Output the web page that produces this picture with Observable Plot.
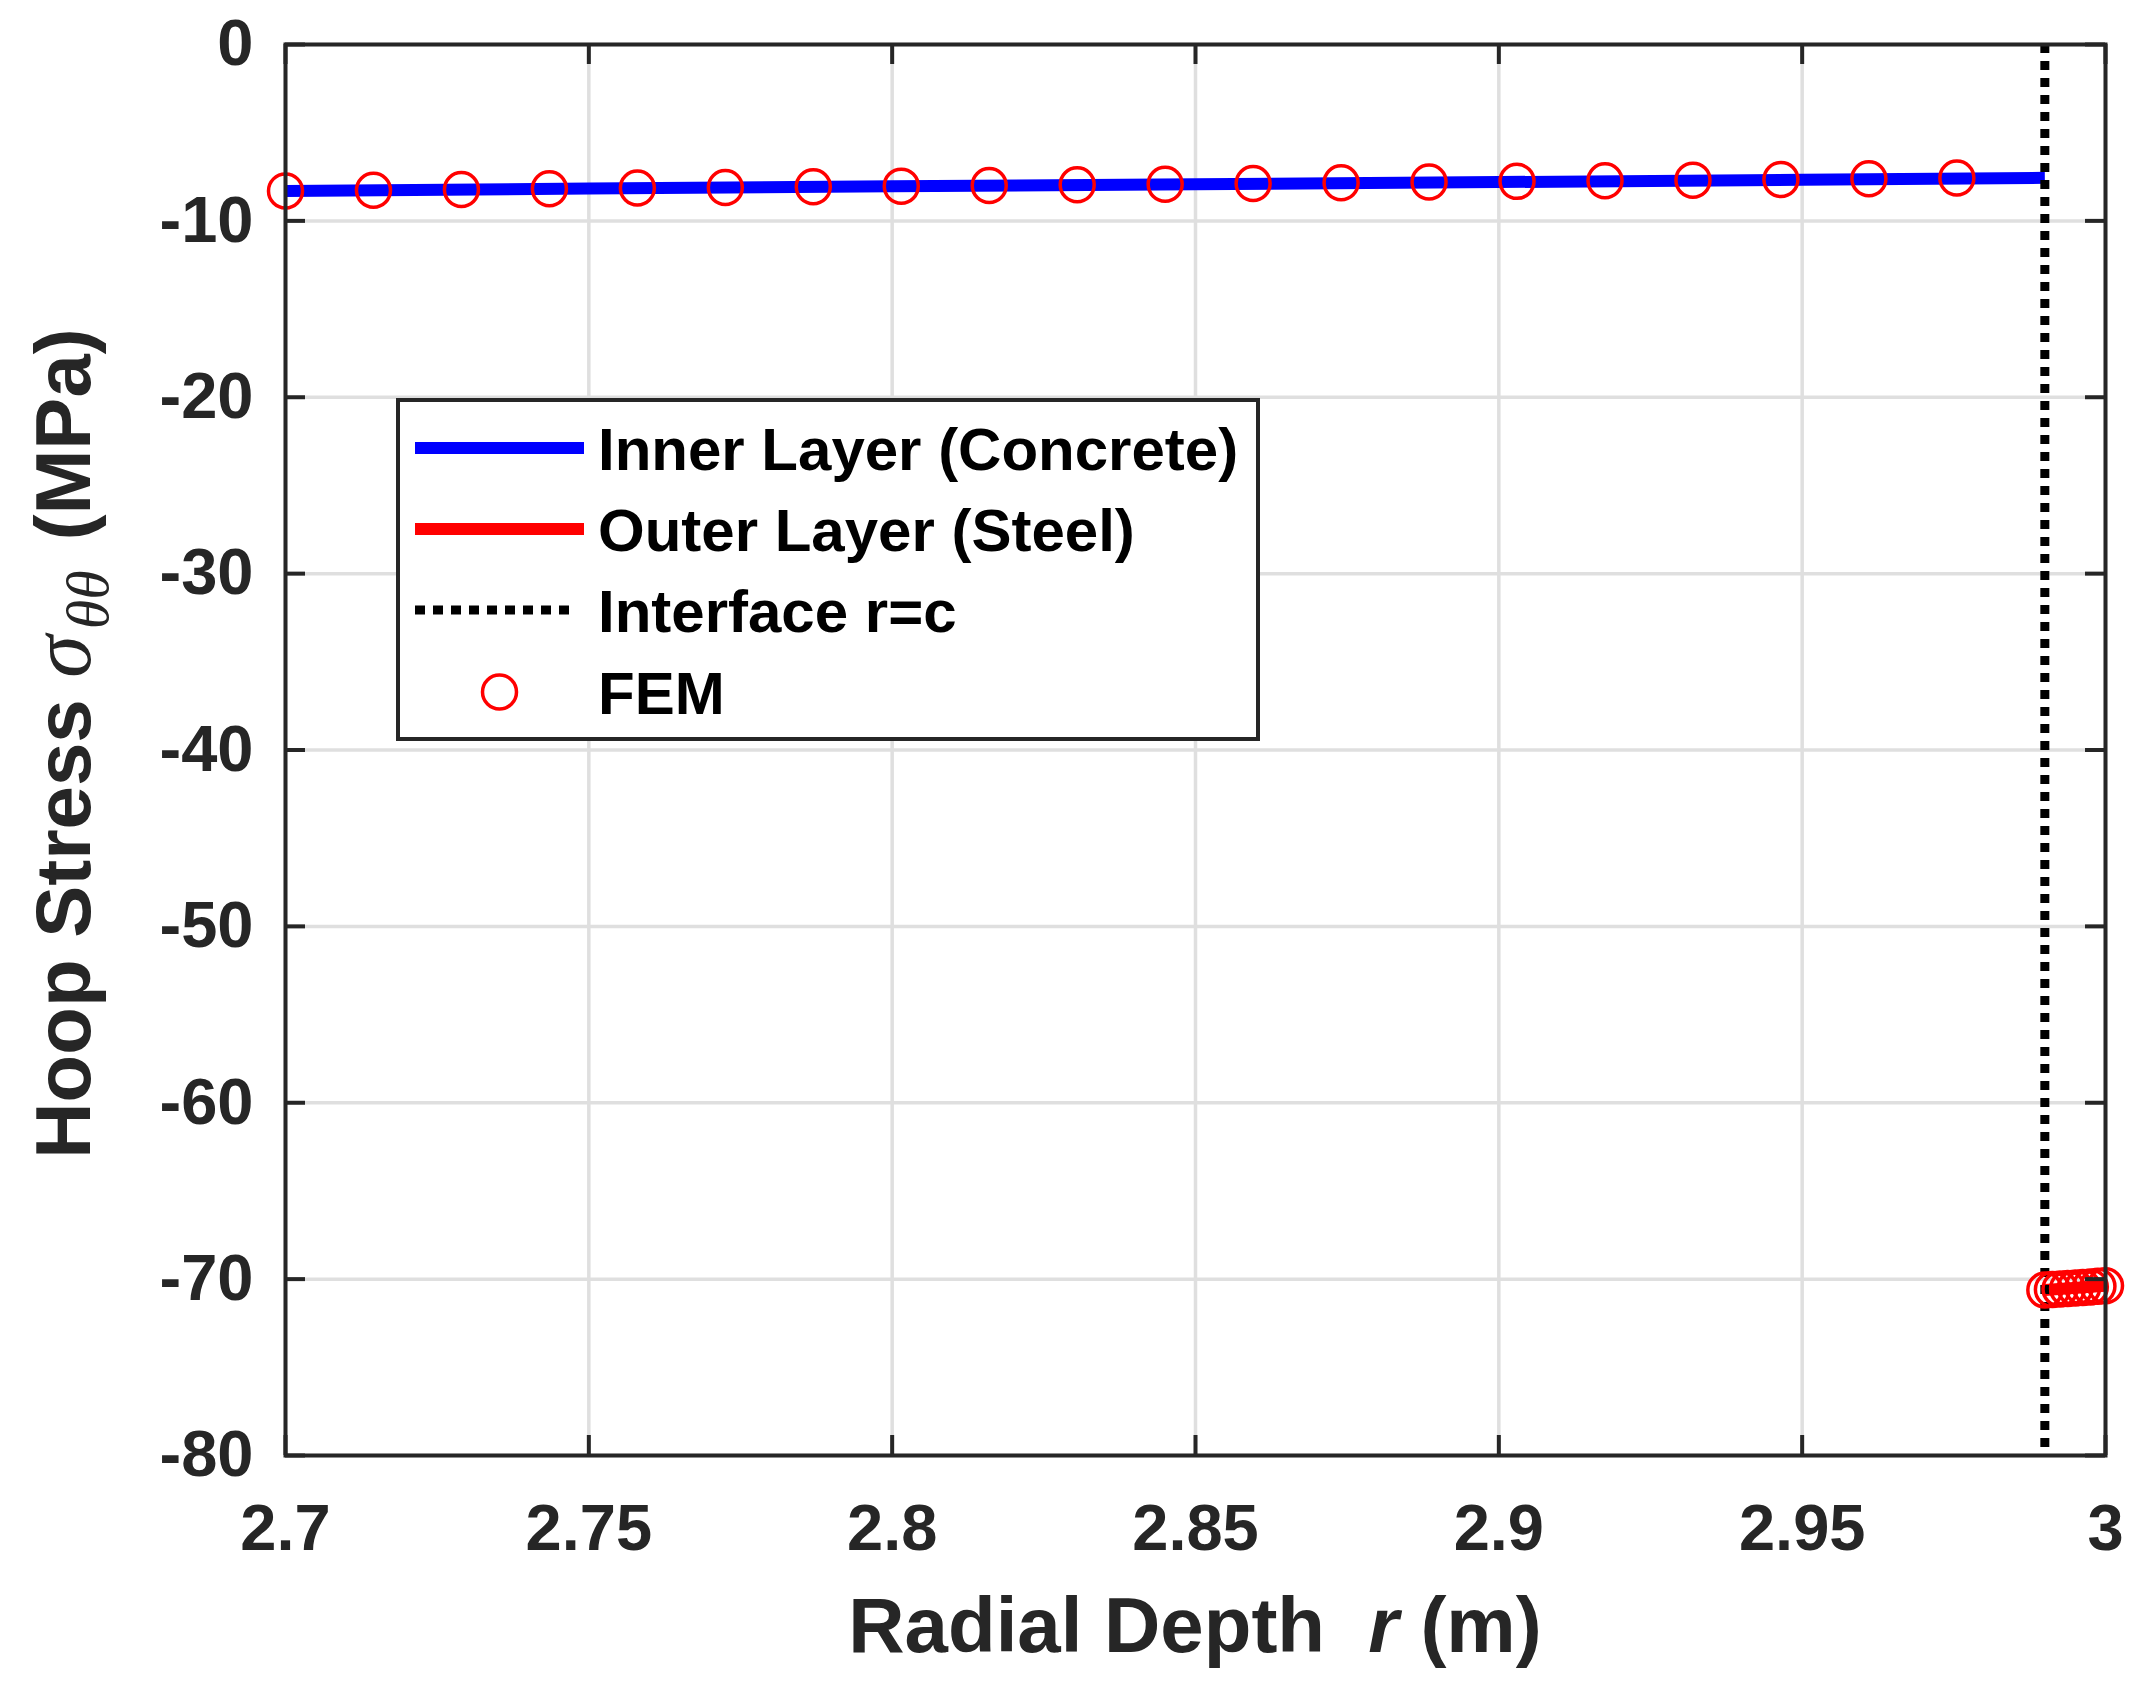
<!DOCTYPE html>
<html>
<head>
<meta charset="utf-8">
<script src="https://cdn.jsdelivr.net/npm/d3@7"></script>
<script src="https://cdn.jsdelivr.net/npm/@observablehq/plot@0.6"></script>
<style>
  html, body { margin: 0; padding: 0; background: white; }
</style>
</head>
<body>
<div id="chart"></div>
<script>
// ---- data ----
const xTicks = [2.7, 2.75, 2.8, 2.85, 2.9, 2.95, 3.0];
const xTickLabels = ["2.7", "2.75", "2.8", "2.85", "2.9", "2.95", "3"];
const yTicks = [0, -10, -20, -30, -40, -50, -60, -70, -80];
const yTickLabels = ["0", "-10", "-20", "-30", "-40", "-50", "-60", "-70", "-80"];

// analytic, inner layer (concrete)
const innerR = [2.7, 2.75, 2.8, 2.85, 2.9, 2.95, 2.99];
const innerS = [-8.30, -8.17, -8.04, -7.92, -7.80, -7.67, -7.56];
// analytic, outer layer (steel)
const steelR = [2.99, 3.0];
const steelS = [-70.62, -70.38];
// interface r = c
const interfaceR = [2.99];
// FEM results
const femR = [2.7, 2.7145, 2.729, 2.7435, 2.758, 2.7725, 2.787, 2.8015, 2.816, 2.8305,
              2.845, 2.8595, 2.874, 2.8885, 2.903, 2.9175, 2.932, 2.9465, 2.961, 2.9755,
              2.99, 2.99125, 2.9925, 2.99375, 2.995, 2.99625, 2.9975, 2.99875, 3.0];
const femS = [-8.30, -8.26, -8.22, -8.18, -8.14, -8.11, -8.07, -8.03, -7.99, -7.95,
              -7.92, -7.88, -7.84, -7.80, -7.76, -7.72, -7.69, -7.65, -7.61, -7.57,
              -70.62, -70.59, -70.56, -70.53, -70.50, -70.47, -70.44, -70.41, -70.38];

const legendLabels = ["Inner Layer (Concrete)", "Outer Layer (Steel)", "Interface r=c", "FEM"];
const xLabelParts = ["Radial Depth  ", "r", " (m)"];
const yLabelParts = ["Hoop Stress ", "σ", "θθ", " (MPa)"];

// ---- build tables ----
const inner = innerR.map((r, i) => ({r, s: innerS[i]}));
const steel = steelR.map((r, i) => ({r, s: steelS[i]}));
const fem = femR.map((r, i) => ({r, s: femS[i]}));

const W = 2140, H = 1691;
const mL = 285, mR = 35, mT = 44, mB = 236;
const plotW = W - mL - mR, plotH = H - mT - mB;
const tickLen = 20;
const axisColor = "#262626";
const gridColor = "#dfdfdf";

const chart = Plot.plot({
  width: W,
  height: H,
  marginLeft: mL,
  marginRight: mR,
  marginTop: mT,
  marginBottom: mB,
  x: {domain: [2.7, 3.0]},
  y: {domain: [-80, 0]},
  style: {
    fontFamily: "'Liberation Sans', Arial, Helvetica, sans-serif",
    fontSize: "65px",
    fontWeight: "bold",
    color: axisColor,
    background: "white",
    overflow: "visible"
  },
  marks: [
    Plot.gridX({ticks: xTicks, stroke: gridColor, strokeOpacity: 1, strokeWidth: 3.5}),
    Plot.gridY({ticks: yTicks, stroke: gridColor, strokeOpacity: 1, strokeWidth: 3.5}),
    Plot.line(inner, {x: "r", y: "s", stroke: "#0000ff", strokeWidth: 12, strokeLinecap: "butt"}),
    Plot.line(steel, {x: "r", y: "s", stroke: "#ff0000", strokeWidth: 12, strokeLinecap: "butt"}),
    Plot.ruleX(interfaceR, {x: d => d, stroke: "black", strokeWidth: 9, strokeDasharray: "9 8"}),
    Plot.dot(fem, {x: "r", y: "s", r: 17, stroke: "#ff0000", strokeWidth: 3.5, fill: "none"}),
    Plot.frame({stroke: axisColor, strokeWidth: 4}),
    // inward ticks on all four sides
    Plot.tickX(xTicks, {x: d => d, insetTop: plotH - tickLen, stroke: axisColor, strokeWidth: 4}),
    Plot.tickX(xTicks, {x: d => d, insetBottom: plotH - tickLen, stroke: axisColor, strokeWidth: 4}),
    Plot.tickY(yTicks, {y: d => d, insetRight: plotW - tickLen, stroke: axisColor, strokeWidth: 4}),
    Plot.tickY(yTicks, {y: d => d, insetLeft: plotW - tickLen, stroke: axisColor, strokeWidth: 4}),
    Plot.axisX({ticks: xTicks, tickSize: 0, tickPadding: 48, label: null,
                tickFormat: d => xTickLabels[xTicks.findIndex(t => Math.abs(t - d) < 1e-9)]}),
    Plot.axisY({ticks: yTicks, tickSize: 0, tickPadding: 32, label: null,
                tickFormat: d => yTickLabels[yTicks.indexOf(d)]})
  ]
});

document.getElementById("chart").appendChild(chart);

// ---- axis titles ----
const svg = d3.select(chart);
const cx = mL + plotW / 2;
const cy = mT + plotH / 2;

const xl = svg.append("text")
  .attr("x", cx).attr("y", 1652)
  .attr("text-anchor", "middle")
  .style("font-size", "78px").style("font-weight", "bold").style("fill", axisColor)
  .style("white-space", "pre");
xl.append("tspan").text(xLabelParts[0]);
xl.append("tspan").style("font-style", "italic").text(xLabelParts[1]);
xl.append("tspan").text(xLabelParts[2]);

const serif = "'Liberation Serif', 'DejaVu Serif', serif";
const yl = svg.append("text")
  .attr("transform", `translate(90,${cy - 6}) rotate(-90)`)
  .attr("text-anchor", "middle")
  .style("font-size", "78px").style("font-weight", "bold").style("fill", axisColor)
  .style("white-space", "pre");
yl.append("tspan").text(yLabelParts[0]);
yl.append("tspan").style("font-style", "italic").style("font-family", serif)
  .style("font-weight", "normal").style("font-size", "86px").text(yLabelParts[1]);
yl.append("tspan").style("font-style", "italic").style("font-family", serif)
  .style("font-weight", "normal").style("font-size", "60px").attr("dx", "6").attr("dy", "18").text(yLabelParts[2]);
yl.append("tspan").attr("dy", "-18").attr("dx", "8").text(yLabelParts[3]);

// ---- legend (inside the axes) ----
const lg = svg.append("g");
const lx = 398, ly = 400, lw = 860, lh = 339;
lg.append("rect").attr("x", lx).attr("y", ly).attr("width", lw).attr("height", lh)
  .attr("fill", "white").attr("stroke", axisColor).attr("stroke-width", 4);
const rowY = [448, 529, 610, 692];
const sampleX0 = 415, sampleX1 = 584, textX = 598;
lg.append("line").attr("x1", sampleX0).attr("x2", sampleX1).attr("y1", rowY[0]).attr("y2", rowY[0])
  .attr("stroke", "#0000ff").attr("stroke-width", 12);
lg.append("line").attr("x1", sampleX0).attr("x2", sampleX1).attr("y1", rowY[1]).attr("y2", rowY[1])
  .attr("stroke", "#ff0000").attr("stroke-width", 12);
lg.append("line").attr("x1", sampleX0).attr("x2", 577).attr("y1", rowY[2]).attr("y2", rowY[2])
  .attr("stroke", "black").attr("stroke-width", 9).attr("stroke-dasharray", "10 8");
lg.append("circle").attr("cx", (sampleX0 + sampleX1) / 2).attr("cy", rowY[3]).attr("r", 17)
  .attr("fill", "none").attr("stroke", "#ff0000").attr("stroke-width", 3.5);
legendLabels.forEach((t, i) => {
  lg.append("text").attr("x", textX).attr("y", rowY[i] + 22)
    .attr("text-anchor", "start")
    .style("font-size", "60px").style("font-weight", "bold").style("fill", "black")
    .text(t);
});
</script>
</body>
</html>
